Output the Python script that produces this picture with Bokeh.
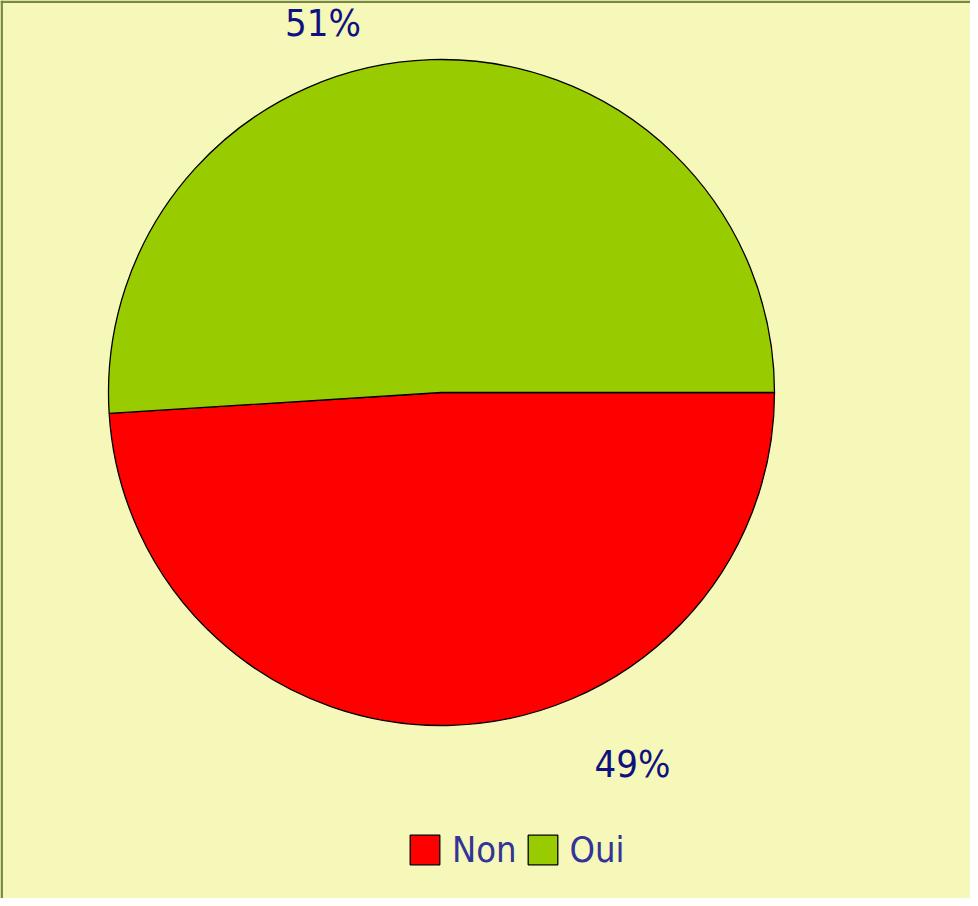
import math
from bokeh.plotting import figure
from bokeh.models import ColumnDataSource, Legend, LegendItem, Span
from bokeh.core.properties import value
from bokeh.embed import file_html
from bokeh.resources import INLINE

# ---- data ----
categories = ["Non", "Oui"]
shares = [49, 51]
slice_colors = ["#FF0000", "#99CC00"]
pct_labels = ["49%", "51%"]

# ---- style / layout constants ----
W, H = 970, 898
BG = "#F5F8B8"
BORDER = "#7A8A3A"
CX, CY = 441, 506          # pie centre in pixel-like data units
R = 333
LABEL_SHIFT_DEG = [25.4, 16.0]
LABEL_R = [418, 388]
FONT = "'Liberation Sans Narrow', 'DejaVu Sans Condensed', 'Roboto Condensed', sans-serif"

total = float(sum(shares))
starts, ends, mids = [], [], []
a = 0.0
for s in shares:
    span = s / total * 2 * math.pi
    starts.append(a)
    ends.append(a - span)
    mids.append(a - span / 2)
    a -= span

src = ColumnDataSource(dict(
    cat=categories, start=starts, end=ends, color=slice_colors,
    x=[CX] * len(shares), y=[CY] * len(shares)))

p = figure(width=W, height=H, x_range=(0, W), y_range=(0, H),
           output_backend="svg", toolbar_location=None,
           min_border=0, background_fill_color=BG, border_fill_color=BG,
           outline_line_color=None)
p.axis.visible = False
p.grid.visible = False

r = p.wedge(x="x", y="y", radius=R, start_angle="start", end_angle="end",
            direction="clock", fill_color="color", line_color="black",
            line_width=1.3, source=src)

lx, ly = [], []
for m, sh, lr in zip(mids, LABEL_SHIFT_DEG, LABEL_R):
    ang = m + math.radians(sh)
    lx.append(CX + lr * math.cos(ang))
    ly.append(CY + lr * math.sin(ang))
p.text(x=lx, y=ly, text=pct_labels, text_align="center", text_baseline="middle",
       text_font=value(FONT), text_font_size="38px", text_color="#10107F")

# border (left and top only visible in the reference)
p.add_layout(Span(location=1.2, dimension="height", line_color=BORDER, line_width=2.5))
p.add_layout(Span(location=H - 1.2, dimension="width", line_color=BORDER, line_width=2.5))

items = [LegendItem(label=c, renderers=[r], index=i) for i, c in enumerate(categories)]
legend = Legend(items=items, orientation="horizontal", location=(406, 28),
                background_fill_alpha=0, border_line_color=None,
                glyph_width=37, glyph_height=37, label_text_font=FONT,
                label_text_font_size="36px", label_text_color="#333399",
                spacing=7, padding=0, margin=0, label_standoff=9)
p.add_layout(legend, "center")

html = file_html(p, INLINE)
html = html.replace("<body>", '<body style="background-color:%s;">' % BG, 1)
open("out.html", "w").write(html)
